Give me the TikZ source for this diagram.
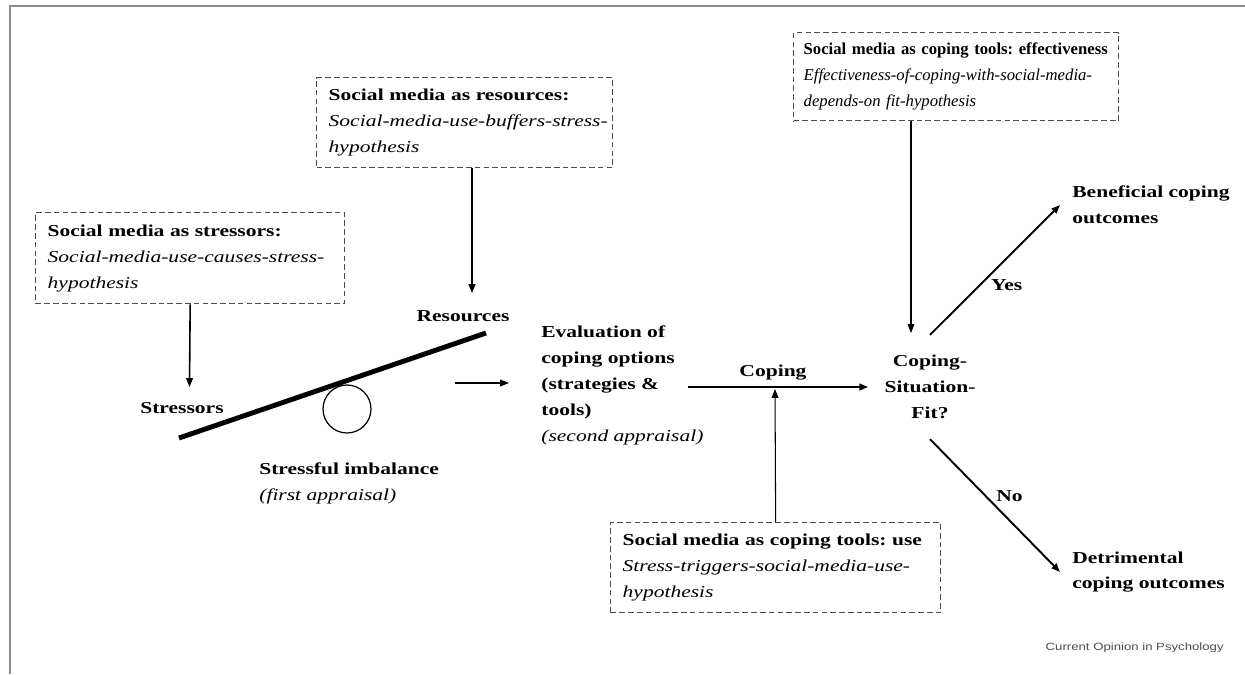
\documentclass[tikz,border=0pt]{standalone}
\usepackage{fontspec}
\setmainfont{Liberation Serif}[FakeStretch=1.29]
\newfontfamily\plainserif{Liberation Serif}
\newfontfamily\creditfont{Liberation Sans}[FakeStretch=1.25]
\usetikzlibrary{arrows.meta, positioning, calc}
\definecolor{boxline}{HTML}{4A4A4A}
\definecolor{framegray}{HTML}{8C8C8C}
\frenchspacing
\exhyphenpenalty=10000
\hyphenpenalty=10000
\newcommand{\figsize}{\fontsize{9.5}{14.74}\selectfont}
\tikzset{
  hypbox/.style={rectangle, draw=boxline, dash pattern=on 3.2pt off 1.8pt,
                 line width=0.8pt, inner xsep=0.24cm, inner ysep=0pt,
                 anchor=north west, align=left, text width=#1},
  lbl/.style={font=\figsize\bfseries},
  arr/.style={-{Triangle[length=5pt, width=3.8pt]}, line width=#1},
  arr/.default=0.6pt,
}

\begin{document}
\begin{tikzpicture}[x=0.02cm, y=-0.02cm, every node/.style={font=\figsize}]
  \useasboundingbox (0,0) rectangle (1245,674);
  \draw[framegray, line width=1.1pt] (10,674) -- (10,6) -- (1245,6);

  % hypothesis boxes
  \node[hypbox=5.70cm, minimum height=1.82cm] (stressbox) at (35,212)
    {\textbf{Social media as stressors:}\\ \itshape Social-media-use-causes-stress-\\ \itshape hypothesis};
  \node[hypbox=5.44cm, minimum height=1.80cm] (resbox) at (316,77)
    {\textbf{Social media as resources:}\\ \itshape Social-media-use-buffers-stress-\\ \itshape hypothesis};
  \node[hypbox=6.10cm, inner xsep=0.2cm, minimum height=1.76cm,
        font=\plainserif\figsize] (effbox) at (793,32)
    {\textbf{Social media as coping tools: effectiveness}\\ \itshape Effectiveness-of-coping-with-social-media-\\ \itshape depends-on fit-hypothesis};
  \node[hypbox=6.12cm, minimum height=1.80cm] (usebox) at (610,522)
    {\textbf{Social media as coping tools: use}\\ \itshape Stress-triggers-social-media-use-\\ \itshape hypothesis};

  % seesaw
  \coordinate (beamL) at (179,438);
  \coordinate (beamR) at (486,333);
  \draw[line width=2.8pt] (beamL) -- (beamR);
  \node[circle, draw, line width=0.7pt, minimum size=0.96cm, inner sep=0pt] (fulcrum) at (347,409) {};
  \node[lbl, anchor=base] (stressors) at (182,413) {Stressors};
  \node[lbl, anchor=base] (resources) at (463,321) {Resources};
  \node[lbl, anchor=base west, align=left, inner sep=0pt] (imbalance) at (259,500)
    {Stressful imbalance\\ \mdseries\itshape (first appraisal)};

  % appraisal and coping
  \node[lbl, anchor=base west, align=left, inner sep=0pt] (eval) at (541,441)
    {Evaluation of\\ coping options\\ (strategies \&\\ tools)\\ \mdseries\itshape (second appraisal)};
  \node[lbl, anchor=base] (coping) at (773,376) {Coping};
  \node[lbl, align=center, inner xsep=0.32cm, inner ysep=0.4cm] (fit) at (930,387)
    {Coping-\\ Situation-\\ Fit?};
  \node[lbl, anchor=west, align=left, inner xsep=0.24cm] (benef) at (1060,205)
    {Beneficial coping\\ outcomes};
  \node[lbl, anchor=west, align=left, inner xsep=0.24cm] (detr) at (1060,572)
    {Detrimental\\ coping outcomes};

  \node[anchor=base east, inner sep=0pt, text=black!70,
        font=\creditfont\fontsize{6}{7}\selectfont] (credit) at (1224,650) {Current Opinion in Psychology};

  % connectors
  \coordinate (stresstip) at (189.5,387);
  \coordinate (restip) at (472,293);
  \coordinate (imbstart) at (455,383);
  \coordinate (imbtip) at (509,383);
  \coordinate (copstart) at (688,387);
  \coordinate (usetip) at (775,389);
  \coordinate (efftip) at (911,333);

  \draw[arr=0.9pt] (stressbox.south) -- (stresstip);
  \draw[arr=0.9pt] (resbox.south -| restip) -- (restip);
  \draw[arr=0.6pt] (imbstart) -- (imbtip);
  \draw[arr=1.1pt] (copstart) -- (fit.west);
  \draw[arr=0.6pt] (usebox.north) -- (usetip);
  \draw[arr=0.6pt] (effbox.south -| efftip) -- (efftip);
  \draw[arr=1.1pt] (fit.north) -- node[lbl, pos=0.45, anchor=north west, inner sep=1pt] (yes) {Yes} (benef.west);
  \draw[arr=1.1pt] (fit.south) -- node[lbl, pos=0.49, anchor=south west, inner sep=1pt] (no) {No} (detr.west);
\end{tikzpicture}
\end{document}
